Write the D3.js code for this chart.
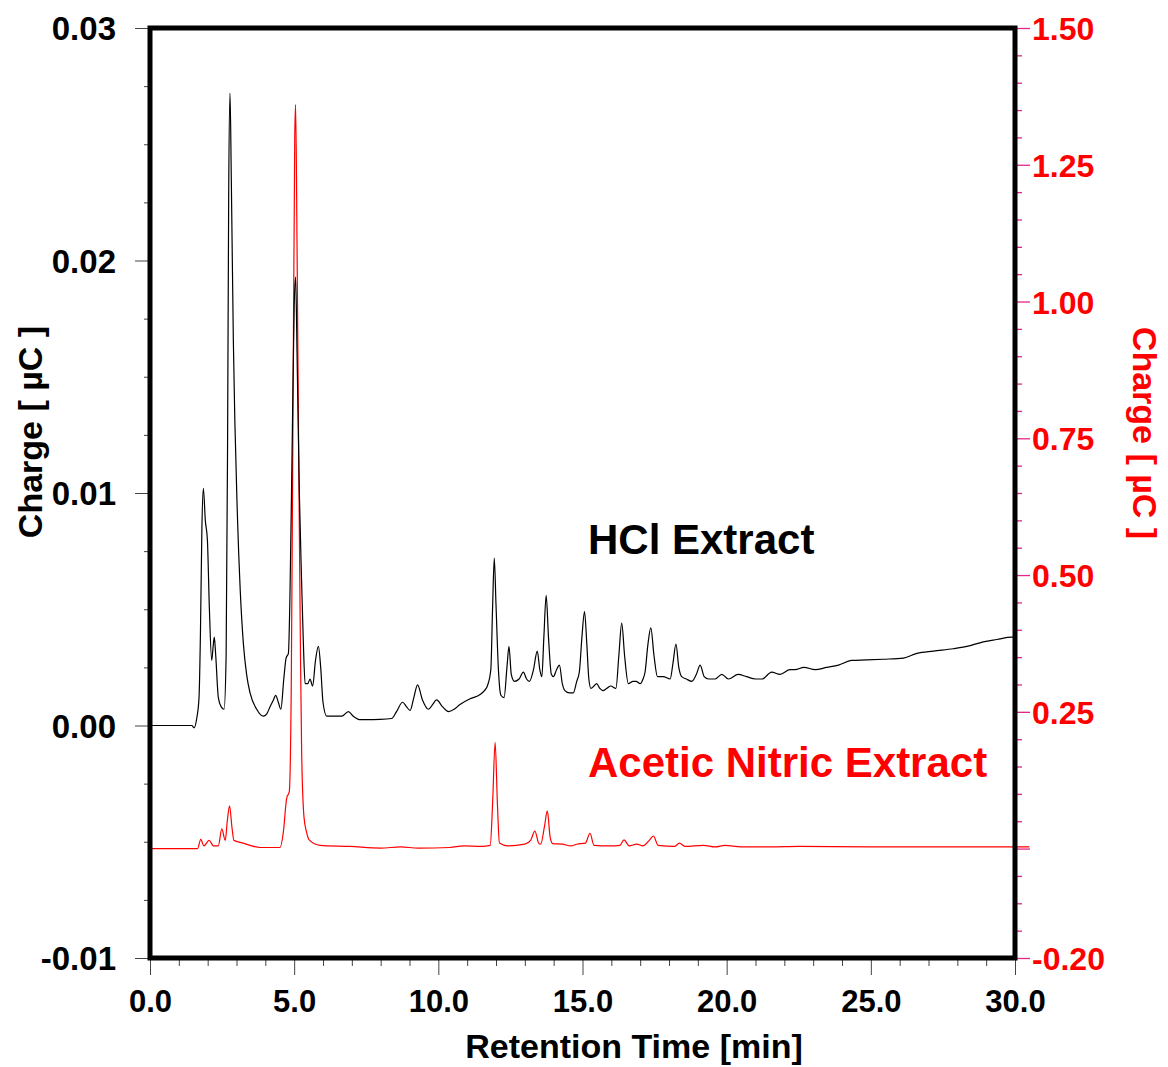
<!DOCTYPE html>
<html>
<head>
<meta charset="utf-8">
<script src="https://cdn.jsdelivr.net/npm/d3@7"></script>
<style>
  html, body { margin: 0; padding: 0; background: #fff; }
  svg { display: block; }
  text { font-family: "Liberation Sans", Arial, Helvetica, sans-serif; font-weight: bold; }
</style>
</head>
<body>
<svg id="chart" width="1168" height="1067"></svg>
<script>
// ---------------- DATA ----------------
// HCl Extract (left axis, µC)
const hclTime = [0.00, 1.45, 1.53, 1.62, 1.70, 1.75, 1.80, 1.85, 1.92, 1.99, 2.06, 2.14, 2.19, 2.23, 2.28, 2.37, 2.47, 2.57, 2.64, 2.69, 2.73, 2.775, 2.82, 2.89, 3.03, 3.13, 3.24, 3.35, 3.47, 3.70, 3.93, 4.05, 4.16, 4.28, 4.36, 4.45, 4.54, 4.64, 4.72, 4.80, 4.86, 4.93, 5.00, 5.05, 5.10, 5.18, 5.26, 5.32, 5.38, 5.47, 5.55, 5.64, 5.74, 5.84, 5.92, 6.00, 6.13, 6.40, 6.65, 6.88, 7.05, 7.30, 7.50, 7.98, 8.38, 8.55, 8.76, 8.90, 9.02, 9.15, 9.28, 9.45, 9.66, 9.80, 9.94, 10.15, 10.35, 10.55, 10.75, 11.10, 11.45, 11.60, 11.70, 11.82, 11.88, 11.94, 12.00, 12.08, 12.17, 12.28, 12.38, 12.45, 12.53, 12.64, 12.80, 12.95, 13.06, 13.16, 13.30, 13.43, 13.52, 13.59, 13.66, 13.74, 13.82, 13.92, 13.99, 14.10, 14.20, 14.30, 14.39, 14.55, 14.68, 14.80, 14.89, 14.98, 15.07, 15.15, 15.22, 15.29, 15.40, 15.49, 15.60, 15.70, 15.85, 15.98, 16.16, 16.26, 16.36, 16.46, 16.59, 16.75, 16.86, 17.00, 17.10, 17.17, 17.27, 17.37, 17.48, 17.60, 17.80, 18.04, 18.14, 18.24, 18.34, 18.44, 18.60, 18.79, 18.95, 19.08, 19.22, 19.37, 19.60, 19.83, 20.06, 20.40, 20.69, 21.00, 21.23, 21.56, 21.85, 22.20, 22.37, 22.68, 23.07, 23.47, 23.88, 24.33, 24.86, 25.43, 26.13, 26.60, 27.17, 27.86, 28.33, 28.90, 29.37, 29.89, 30.00];
const hclCharge = [0.0000, 0.0000, -0.0001, 0.0003, 0.0012, 0.0040, 0.0085, 0.0102, 0.0088, 0.0080, 0.0050, 0.0028, 0.0034, 0.0038, 0.0030, 0.0012, 0.0008, 0.0007, 0.0030, 0.0120, 0.0230, 0.0272, 0.0235, 0.0166, 0.0091, 0.0058, 0.0035, 0.0022, 0.0014, 0.0007, 0.0004, 0.0005, 0.0008, 0.0011, 0.0013, 0.0010, 0.0007, 0.0020, 0.0029, 0.0031, 0.0060, 0.0120, 0.0180, 0.0193, 0.0160, 0.0100, 0.0061, 0.0035, 0.0018, 0.0018, 0.0020, 0.0017, 0.0028, 0.0034, 0.0025, 0.0010, 0.0004, 0.0004, 0.0004, 0.0006, 0.0004, 0.00025, 0.00025, 0.00026, 0.0003, 0.0006, 0.0010, 0.0008, 0.00065, 0.0012, 0.00175, 0.0011, 0.0007, 0.0009, 0.0011, 0.0008, 0.0006, 0.0007, 0.0009, 0.00115, 0.00133, 0.0015, 0.0017, 0.0024, 0.0050, 0.0072, 0.0052, 0.0025, 0.0013, 0.0012, 0.0025, 0.0034, 0.0022, 0.0019, 0.0020, 0.0023, 0.0020, 0.0019, 0.0024, 0.0032, 0.0024, 0.0021, 0.0038, 0.0056, 0.0038, 0.0022, 0.0021, 0.0024, 0.0026, 0.0018, 0.0015, 0.0014, 0.0014, 0.0019, 0.0023, 0.0038, 0.0049, 0.0035, 0.0020, 0.0016, 0.0017, 0.0018, 0.0016, 0.0015, 0.0016, 0.0017, 0.0016, 0.0030, 0.0044, 0.0030, 0.0018, 0.0019, 0.0019, 0.0018, 0.0020, 0.0023, 0.0035, 0.0042, 0.0030, 0.0021, 0.0021, 0.0020, 0.0027, 0.0035, 0.0025, 0.0021, 0.0020, 0.0019, 0.0022, 0.0026, 0.0021, 0.0020, 0.0020, 0.0022, 0.0020, 0.0022, 0.0021, 0.0020, 0.0020, 0.0023, 0.0022, 0.0024, 0.0024, 0.0025, 0.0024, 0.0025, 0.0026, 0.0028, 0.00282, 0.00285, 0.0029, 0.0031, 0.0032, 0.0033, 0.0034, 0.0036, 0.0037, 0.0038, 0.0038];

// Acetic Nitric Extract (right axis, µC)
const anTime = [0.00, 1.65, 1.76, 1.87, 2.05, 2.20, 2.37, 2.49, 2.61, 2.68, 2.76, 2.84, 2.91, 3.24, 3.47, 3.82, 4.51, 4.62, 4.74, 4.83, 4.90, 4.96, 5.02, 5.05, 5.10, 5.16, 5.22, 5.26, 5.34, 5.43, 5.52, 5.90, 6.94, 8.00, 8.70, 9.30, 10.40, 10.87, 11.50, 11.80, 11.88, 11.97, 12.05, 12.12, 12.40, 13.00, 13.20, 13.35, 13.48, 13.55, 13.68, 13.78, 13.88, 13.97, 14.30, 14.60, 14.80, 15.10, 15.26, 15.40, 15.95, 16.30, 16.44, 16.62, 16.88, 17.10, 17.30, 17.46, 17.62, 18.20, 18.36, 18.55, 19.19, 19.60, 19.94, 20.50, 21.50, 22.50, 25.00, 28.00, 30.50];
const anCharge = [0.000, 0.000, 0.017, 0.005, 0.015, 0.005, 0.005, 0.036, 0.015, 0.050, 0.078, 0.040, 0.015, 0.010, 0.006, 0.002, 0.002, 0.028, 0.092, 0.104, 0.300, 0.800, 1.300, 1.360, 1.100, 0.700, 0.350, 0.175, 0.058, 0.030, 0.016, 0.006, 0.004, 0.001, 0.003, 0.001, 0.002, 0.005, 0.004, 0.006, 0.080, 0.194, 0.080, 0.010, 0.005, 0.008, 0.015, 0.032, 0.010, 0.008, 0.040, 0.069, 0.020, 0.009, 0.008, 0.005, 0.008, 0.010, 0.028, 0.006, 0.005, 0.006, 0.016, 0.005, 0.008, 0.005, 0.014, 0.023, 0.006, 0.004, 0.010, 0.004, 0.006, 0.003, 0.006, 0.003, 0.003, 0.004, 0.003, 0.003, 0.003];

// Axis ticks
const xMajorTicks = [0, 5, 10, 15, 20, 25, 30];
const xMinorTicks = [1, 2, 3, 4, 6, 7, 8, 9, 11, 12, 13, 14, 16, 17, 18, 19, 21, 22, 23, 24, 26, 27, 28, 29];
const leftMajorTicks = [0.03, 0.02, 0.01, 0.00, -0.01];
const leftMinorStep = 0.0025;
const rightMajorTicks = [1.50, 1.25, 1.00, 0.75, 0.50, 0.25, 0.00, -0.20];
const rightTickLabels = ["1.50", "1.25", "1.00", "0.75", "0.50", "0.25", "", "-0.20"];
const rightMinorStep = 0.05;
const seriesNames = ["HCl Extract", "Acetic Nitric Extract"];

// ---------------- CHART ----------------
const svg = d3.select("#chart");
const L = 150, R = 1015, T = 28, B = 958;

const x = d3.scaleLinear().domain([0, 30]).range([L, R]);
const yL = d3.scaleLinear().domain([-0.01, 0.03]).range([B, T]);
const yR = d3.scaleLinear().domain([-0.20, 1.50]).range([B, T]);

const leftMinor = d3.range(-0.01, 0.03 + 1e-9, leftMinorStep).filter(v => !leftMajorTicks.some(m => Math.abs(m - v) < 1e-9));
const rightMinor = d3.range(-0.20, 1.50 + 1e-9, rightMinorStep).filter(v => !rightMajorTicks.some(m => Math.abs(m - v) < 1e-9));

const tickCol = "#444";
const pink = "#e0288a";

// Left axis minor
svg.append("g").attr("transform", `translate(${L},0)`)
  .call(d3.axisLeft(yL).tickValues(leftMinor).tickSize(6).tickFormat(""))
  .call(g => g.select(".domain").remove())
  .call(g => g.selectAll("line").attr("stroke", tickCol));
// Left axis major
svg.append("g").attr("transform", `translate(${L},0)`)
  .call(d3.axisLeft(yL).tickValues(leftMajorTicks).tickSize(15).tickPadding(19).tickFormat(d => d.toFixed(2)))
  .call(g => g.select(".domain").remove())
  .call(g => g.selectAll("line").attr("stroke", tickCol))
  .call(g => g.selectAll("text").attr("fill", "#000").style("font-size", "33px").attr("dy", "0.36em"));

// Right axis minor
svg.append("g").attr("transform", `translate(${R},0)`)
  .call(d3.axisRight(yR).tickValues(rightMinor).tickSize(7).tickFormat(""))
  .call(g => g.select(".domain").remove())
  .call(g => g.selectAll("line").attr("stroke", pink).attr("stroke-width", 1.3));
// Right axis major
svg.append("g").attr("transform", `translate(${R},0)`)
  .call(d3.axisRight(yR).tickValues(rightMajorTicks).tickSize(15).tickPadding(2)
        .tickFormat((d, i) => rightTickLabels[i]))
  .call(g => g.select(".domain").remove())
  .call(g => g.selectAll("line").attr("stroke", pink).attr("stroke-width", 1.3))
  .call(g => g.selectAll("text").attr("fill", "#ff0000").style("font-size", "32px").attr("dy", "0.36em"));

// Bottom axis minor
svg.append("g").attr("transform", `translate(0,${B})`)
  .call(d3.axisBottom(x).tickValues(xMinorTicks).tickSize(8).tickFormat(""))
  .call(g => g.select(".domain").remove())
  .call(g => g.selectAll("line").attr("stroke", tickCol));
// Bottom axis major
svg.append("g").attr("transform", `translate(0,${B})`)
  .call(d3.axisBottom(x).tickValues(xMajorTicks).tickSize(17).tickFormat(d => d.toFixed(1)))
  .call(g => g.select(".domain").remove())
  .call(g => g.selectAll("line").attr("stroke", tickCol))
  .call(g => g.selectAll("text").attr("fill", "#000").style("font-size", "31px").attr("y", 54).attr("dy", null));

// Traces
const lineL = d3.line().x(d => x(d[0])).y(d => yL(d[1])).curve(d3.curveMonotoneX);
const lineR = d3.line().x(d => x(d[0])).y(d => yR(d[1])).curve(d3.curveMonotoneX);

svg.append("path")
  .datum(anTime.map((t, i) => [t, anCharge[i]]))
  .attr("d", lineR).attr("fill", "none").attr("stroke", "#ff0000").attr("stroke-width", 1.2);

svg.append("path")
  .datum(hclTime.map((t, i) => [t, hclCharge[i]]))
  .attr("d", lineL).attr("fill", "none").attr("stroke", "#000").attr("stroke-width", 1.2);

// Frame
svg.append("rect").attr("x", L).attr("y", T).attr("width", R - L).attr("height", B - T)
  .attr("fill", "none").attr("stroke", "#000").attr("stroke-width", 5);

// Axis titles
svg.append("text").attr("x", 634).attr("y", 1058).attr("text-anchor", "middle")
  .style("font-size", "34px").attr("fill", "#000").text("Retention Time [min]");
svg.append("text").attr("transform", "translate(42,432) rotate(-90)").attr("text-anchor", "middle")
  .style("font-size", "34px").attr("fill", "#000").text("Charge [ µC ]");
svg.append("text").attr("transform", "translate(1133,433) rotate(90)").attr("text-anchor", "middle")
  .style("font-size", "34px").attr("fill", "#ff0000").text("Charge [ µC ]");

// Series labels
svg.append("text").attr("x", 588).attr("y", 554).style("font-size", "42px").attr("fill", "#000").text(seriesNames[0]);
svg.append("text").attr("x", 588).attr("y", 777).style("font-size", "42px").attr("fill", "#ff0000").text(seriesNames[1]);
</script>
</body>
</html>
